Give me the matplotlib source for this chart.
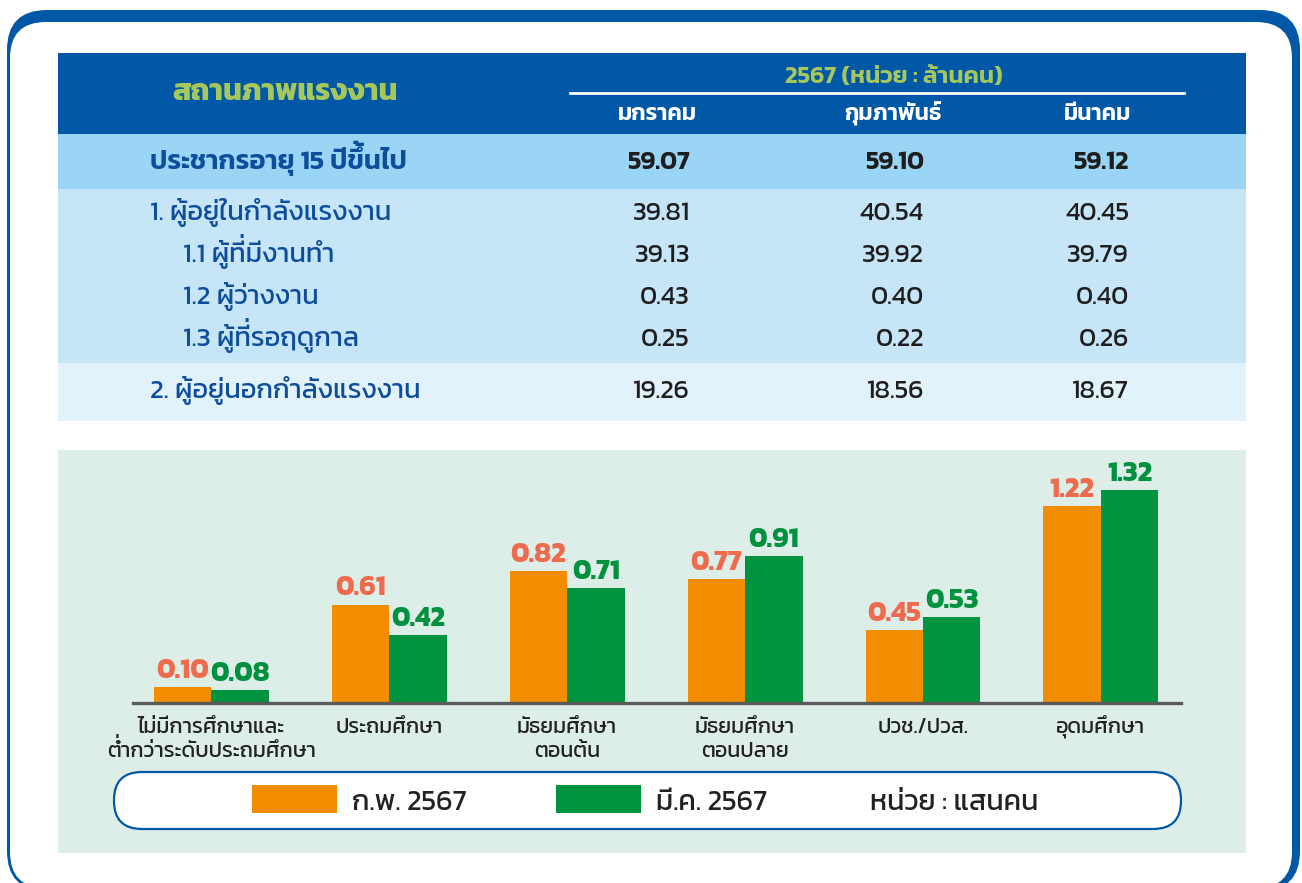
import matplotlib
matplotlib.use("Agg")
import matplotlib.pyplot as plt
from matplotlib.patches import FancyBboxPatch, Rectangle
from matplotlib.transforms import IdentityTransform, blended_transform_factory
import numpy as np

plt.rcParams['font.family'] = ['Kanit', 'DejaVu Sans']

### table data (unit: million persons)
table_title = 'สถานภาพแรงงาน'
table_unit = '2567 (หน่วย : ล้านคน)'
months = ['มกราคม', 'กุมภาพันธ์', 'มีนาคม']
row_labels = ['ประชากรอายุ 15 ปีขึ้นไป', '1. ผู้อยู่ในกำลังแรงงาน', '1.1 ผู้ที่มีงานทำ',
              '1.2 ผู้ว่างงาน', '1.3 ผู้ที่รอฤดูกาล', '2. ผู้อยู่นอกกำลังแรงงาน']
jan = [59.07, 39.81, 39.13, 0.43, 0.25, 19.26]
feb = [59.10, 40.54, 39.92, 0.40, 0.22, 18.56]
mar = [59.12, 40.45, 39.79, 0.40, 0.26, 18.67]

### bar chart data (unit: hundred thousand persons)
edu_labels = ['ไม่มีการศึกษาและ\nต่ำกว่าระดับประถมศึกษา', 'ประถมศึกษา', 'มัธยมศึกษา\nตอนต้น',
              'มัธยมศึกษา\nตอนปลาย', 'ปวช./ปวส.', 'อุดมศึกษา']
feb_vals = [0.10, 0.61, 0.82, 0.77, 0.45, 1.22]
mar_vals = [0.08, 0.42, 0.71, 0.91, 0.53, 1.32]
series_names = ['ก.พ. 2567', 'มี.ค. 2567']
unit_text = 'หน่วย : แสนคน'

BLUE = '#0058A6'
LABEL_GREEN = '#A5C75C'
NAVY = '#0D4D9C'
ORANGE = '#F28C00'
GREEN = '#009440'
DARK = '#1E1E1E'

W, H = 1302, 883
fig = plt.figure(figsize=(W / 100, H / 100), dpi=100)
renderer = fig.canvas.get_renderer()
bg = fig.add_axes([0, 0, 1, 1])
bg.set_xlim(0, W)
bg.set_ylim(H, 0)
bg.axis('off')

## matplotlib has no Thai mark shaping: a tone mark sitting over an upper vowel
## (or before sara am) gets drawn as its own text, raised above the vowel.
UPPER = set('\u0e31\u0e34\u0e35\u0e36\u0e37\u0e47')
TONES = set('\u0e48\u0e49\u0e4a\u0e4b\u0e4c')

def split_marks(s):
    main, marks = '', []
    for i, c in enumerate(s):
        prev = s[i - 1] if i > 0 else ''
        nxt = s[i + 1] if i + 1 < len(s) else ''
        if c in TONES and (prev in UPPER or nxt == '\u0e33'):
            marks.append((len(main) - (1 if prev in UPPER else 0), c))
        else:
            main += c
    return main, marks

def ttext(x, y, s, fontsize, transform=None, raise_em=0.25, **kw):
    """Thai text with its baseline at y."""
    if transform is None:
        transform = bg.transData
    main, marks = split_marks(s)
    t = fig.text(x, y, main, transform=transform, fontsize=fontsize, va='baseline', zorder=5, **kw)
    if marks:
        ext = t.get_window_extent(renderer)
        bx, by = transform.transform((x, y))
        prop = t.get_fontproperties()
        px_em = fontsize * fig.dpi / 72
        for n, m in marks:
            w = renderer.get_text_width_height_descent(main[:n], prop, ismath=False)[0]
            # a no-break space in front gives the lone mark a width
            fig.text(ext.x0 + w - 0.03 * px_em, by + raise_em * px_em, '\u00a0' + m,
                     transform=IdentityTransform(), fontsize=fontsize, va='baseline', ha='right',
                     zorder=5, color=kw.get('color'), fontweight=kw.get('fontweight', 'normal'))
    return t

def box(x0, y0, x1, y1, color, z=1):
    bg.add_patch(Rectangle((x0, y0), x1 - x0, y1 - y0, facecolor=color, edgecolor='none', zorder=z))

## outer frame
bg.add_patch(FancyBboxPatch((7 + 40, 10 + 40), 1293 - 80, 881 - 80, boxstyle='round,pad=40',
                            facecolor=BLUE, edgecolor='none', zorder=0))
bg.add_patch(FancyBboxPatch((10 + 36, 22 + 36), 1282 - 72, 866 - 72, boxstyle='round,pad=36',
                            facecolor='white', edgecolor='none', zorder=0.5))

## table bands
box(58, 53, 1246, 134, BLUE)
box(58, 134, 1246, 189, '#9AD5F5')
box(58, 189, 1246, 363, '#C6E6F7')
box(58, 363, 1246, 421, '#E2F2FA')

ttext(285, 100, table_title, 21.5, color=LABEL_GREEN, fontweight='bold', ha='center')
ttext(894, 83, table_unit, 17.5, color=LABEL_GREEN, fontweight='semibold', ha='center')
bg.plot([570, 1184], [93, 93], color='white', lw=2, zorder=3)
col_center = [657, 893, 1098]
col_right = [690, 924, 1129]
for cx, m in zip(col_center, months):
    ttext(cx, 120, m, 16.5, color='white', fontweight='semibold', ha='center')

row_y = [169, 220, 262, 304, 346, 398]
row_x = [150, 150, 183, 183, 183, 150]
for i, lab in enumerate(row_labels):
    wt = 'semibold' if i == 0 else 'normal'
    ttext(row_x[i], row_y[i], lab, 19.5, color=NAVY, fontweight=wt, ha='left')
    for cr, vals in zip(col_right, [jan, feb, mar]):
        ttext(cr, row_y[i], f'{vals[i]:.2f}', 18.5 if i == 0 else 19, color=DARK, fontweight=wt, ha='right')

## chart panel
box(58, 450, 1246, 853, '#DDEEE8')

ax_l, ax_r, ax_t, ax_b = 133, 1181, 450, 703
ax = fig.add_axes([ax_l / W, 1 - ax_b / H, (ax_r - ax_l) / W, (ax_b - ax_t) / H])
ax.set_facecolor('none')
x = np.arange(len(edu_labels))
bw = 0.323
ax.bar(x - bw / 2, feb_vals, bw, color=ORANGE, zorder=2)
ax.bar(x + bw / 2, mar_vals, bw, color=GREEN, zorder=2)
ax.set_xlim(-0.44, 5.45)
ax.set_ylim(0, 1.567)
for s in ['top', 'left', 'right']:
    ax.spines[s].set_visible(False)
ax.spines['bottom'].set_color('#5A5A5A')
ax.spines['bottom'].set_linewidth(2.4)
ax.set_yticks([])
ax.set_xticks([])

lab_off = 0.056
for i in range(len(x)):
    ttext(x[i] - bw / 2, feb_vals[i] + lab_off, f'{feb_vals[i]:.2f}', 20, transform=ax.transData,
          color='#EE6C4D', fontweight='bold', ha='center')
    ttext(x[i] + bw / 2, mar_vals[i] + lab_off, f'{mar_vals[i]:.2f}', 20, transform=ax.transData,
          color='#00913F', fontweight='bold', ha='center')

cat_tr = blended_transform_factory(ax.transData, bg.transData)
for i, lab in enumerate(edu_labels):
    for j, line in enumerate(lab.split('\n')):
        ttext(x[i], 733 + 24 * j, line, 15.5, transform=cat_tr, color='#222222', ha='center')

## legend pill
bg.add_patch(FancyBboxPatch((114 + 28, 772 + 28), 1067 - 56, 57 - 56, boxstyle='round,pad=28',
                            facecolor='white', edgecolor=BLUE, lw=1.6, zorder=2))
box(252, 785, 337, 813, ORANGE, z=3)
box(556, 785, 641, 813, GREEN, z=3)
ttext(352, 810, series_names[0], 20.5, color='#222222', ha='left')
ttext(656, 810, series_names[1], 20.5, color='#222222', ha='left')
ttext(870, 810, unit_text, 20.5, color='#222222', ha='left')

fig.savefig('out.png', dpi=100)
